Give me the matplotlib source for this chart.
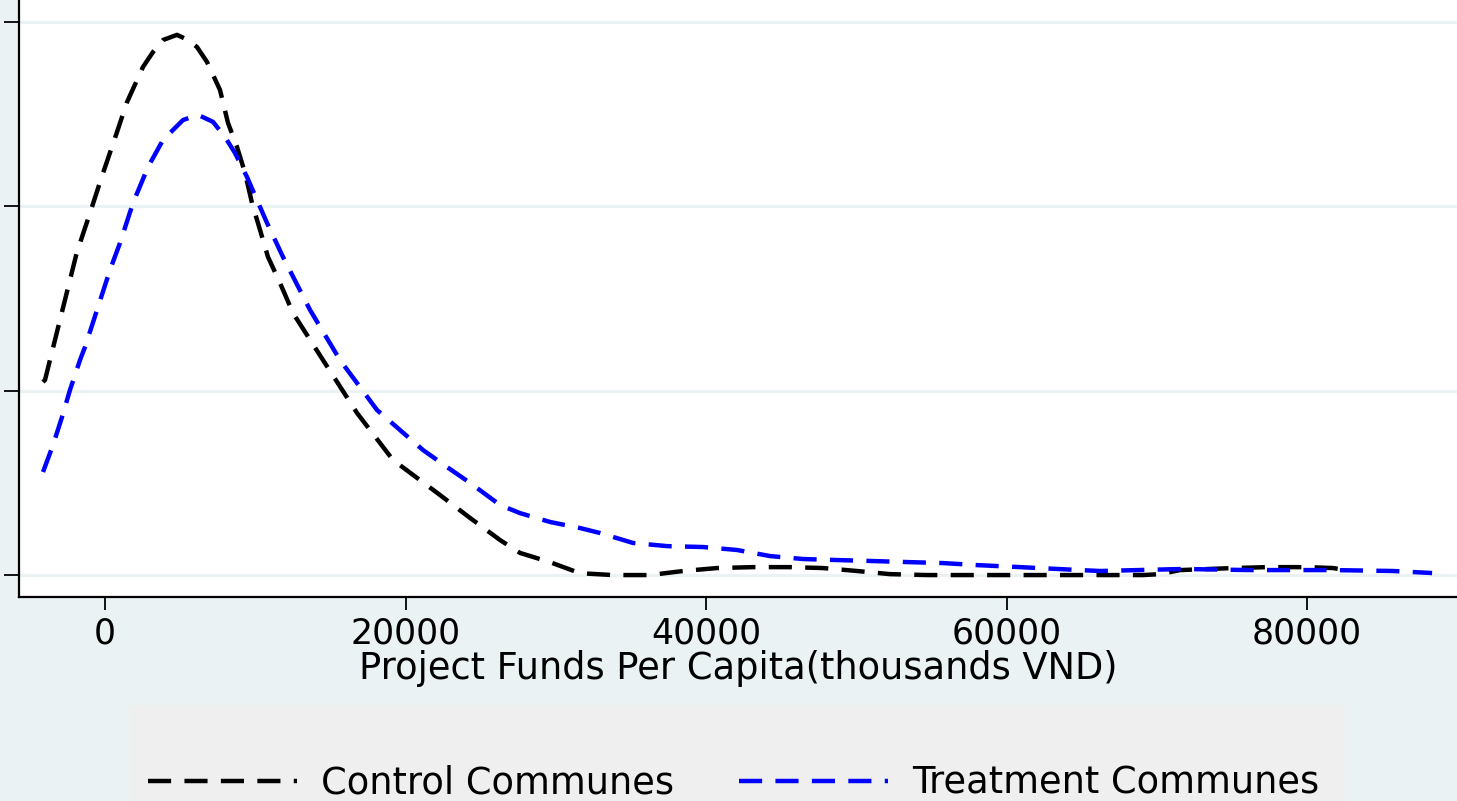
import numpy as np
import matplotlib
matplotlib.use('Agg')
from matplotlib import pyplot as plt
from matplotlib.patches import Rectangle

# kernel density (y in units of 1e-5)
x_control = [-4126, -3994, -2882, -1884, -998, -220, 779, 1444, 2130, 2529,
             3195, 3860, 4792, 5524, 6123, 6789, 7654, 8187, 8786, 9318,
             9784, 10317, 10849, 11648, 12513, 14510, 16773, 19169, 22298,
             24293, 26290, 27621, 29617, 31614, 33810, 36273, 38470, 40733,
             43129, 45592, 47788, 50051, 52248, 54711, 60000, 69090, 70222,
             71553, 75081, 77344, 80006, 81737, 82536]
y_control = [1.047, 1.058, 1.421, 1.747, 1.964, 2.159, 2.398, 2.561, 2.685, 2.756,
             2.837, 2.902, 2.93, 2.902, 2.864, 2.783, 2.631, 2.452, 2.322, 2.181,
             2.018, 1.872, 1.725, 1.584, 1.421, 1.166, 0.879, 0.624, 0.434,
             0.31, 0.19, 0.12, 0.07, 0.01, 0.0, 0.0, 0.022, 0.038,
             0.043, 0.043, 0.038, 0.022, 0.005, 0.0, 0.0, 0.0, 0.005,
             0.027, 0.038, 0.043, 0.043, 0.038, 0.027]

x_treat = [-4127, -3461, -2862, -2330, -1664, -1331, -466, 333, 998, 1864,
           2862, 3860, 5192, 6190, 7188, 7987, 8652, 9451, 10117, 10783,
           11848, 13645, 15642, 18105, 21166, 22764, 24293, 26290, 27621,
           29617, 31614, 32947, 35144, 37407, 39803, 42066, 44262, 46459,
           48922, 51118, 53581, 55777, 58040, 60898, 64891, 66223, 71752,
           76211, 81737, 85730, 88326]
y_treat = [0.559, 0.705, 0.857, 1.004, 1.166, 1.237, 1.454, 1.655, 1.801, 2.018,
           2.213, 2.36, 2.468, 2.496, 2.458, 2.376, 2.289, 2.159, 2.034, 1.91,
           1.725, 1.438, 1.166, 0.895, 0.678, 0.586, 0.5, 0.38, 0.336,
           0.288, 0.255, 0.228, 0.174, 0.157, 0.152, 0.136, 0.103, 0.087,
           0.081, 0.076, 0.07, 0.065, 0.054, 0.043, 0.027, 0.022, 0.033,
           0.027, 0.027, 0.022, 0.011]

x_ticks = [0, 20000, 40000, 60000, 80000]
y_ticks = [0, 1, 2, 3]

bg = '#eaf2f3'

fig = plt.figure(figsize=(14.57, 8.01), dpi=100, facecolor=bg)
ax = fig.add_axes([19 / 1457, (801 - 597) / 801, 1 - 19 / 1457, 597 / 801])
ax.set_facecolor('white')

for yt in y_ticks:
    ax.axhline(yt, color=bg, lw=2.2, zorder=1)

ax.plot(x_control, y_control, color='black', lw=3.2, dashes=(5.2, 3.0),
        solid_joinstyle='round', label='Control Communes', zorder=3)
ax.plot(x_treat, y_treat, color='#0000ff', lw=3.2, dashes=(5.2, 3.0),
        solid_joinstyle='round', label='Treatment Communes', zorder=3)

ax.set_xlim(-5724, 89983)
ax.set_ylim(-0.119, 3.119)
ax.set_xticks(x_ticks)
ax.set_xticklabels([str(v) for v in x_ticks], fontsize=25)
ax.set_yticks(y_ticks)
ax.set_yticklabels([])
ax.tick_params(axis='x', length=9, width=1.3, pad=5)
ax.tick_params(axis='y', length=11, width=1.3)
for s in ['top', 'right']:
    ax.spines[s].set_visible(False)
for s in ['left', 'bottom']:
    ax.spines[s].set_linewidth(1.6)
ax.set_xlabel('Project Funds Per Capita(thousands VND)', fontsize=26.5)
ax.xaxis.set_label_coords(0.5, (597 - 679) / 597)
ax.xaxis.label.set_va('baseline')

# legend box
fig.patches.append(Rectangle((130 / 1457, 0), (1345 - 130) / 1457, (801 - 705) / 801,
                             transform=fig.transFigure, facecolor='#efefef',
                             edgecolor='none', zorder=0))
h, l = ax.get_legend_handles_labels()
fig.legend(h, l, ncol=2, frameon=False, fontsize=26.5, loc='center left',
           bbox_to_anchor=(115 / 1457, (801 - 783) / 801), handlelength=4.05,
           columnspacing=1.75, handletextpad=0.66)

fig.savefig('out.png', dpi=100, facecolor=bg)
